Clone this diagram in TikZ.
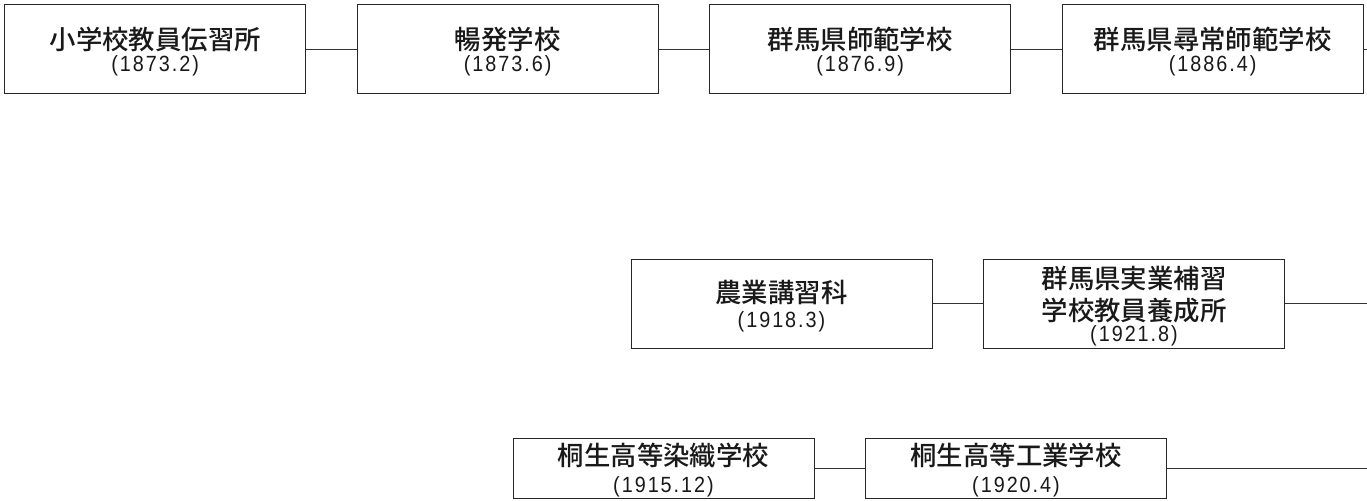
\documentclass[tikz,border=0pt]{standalone}
\usepackage{fontspec}
\setmainfont{Liberation Sans}
\newfontfamily\jpfont{Noto Sans CJK JP Medium}
\newfontfamily\yearfont{Liberation Sans}[FakeStretch=0.9, LetterSpace=9]
\usetikzlibrary{positioning}
\newcommand\meiji[1]{{\jpfont\fontsize{13.2pt}{16pt}\selectfont #1}}
\newcommand\datefont{\yearfont\fontsize{11pt}{10.75pt}\selectfont\lineskiplimit=-20pt\relax}
\tikzset{node distance = 176.25pt, on grid,
         school/.style = {draw = black!85, line width = .5pt, text = black!90,
                          minimum width = 150.5pt, minimum height = 44.75pt,
                          inner sep = 0pt, align = center, font = \datefont,
                          text depth = -1.8pt},
         low/.style = {minimum height = 30pt},
         link/.style = {draw = black!80, line width = .5pt}}

\begin{document}
\begin{tikzpicture}
        \useasboundingbox (0,0) rectangle (683.5pt,250pt);
        \coordinate (rim) at (683.5pt,0);

        % Gunma normal school line
        \node[school]      (n1) at (77.6pt,225.4pt)  {\meiji{小学校教員伝習所}\\(1873.2)};
        \node[school]      (n2) [right of = n1]      {\meiji{暢発学校}\\(1873.6)};
        \node[school]      (n3) [right of = n2]      {\meiji{群馬県師範学校}\\(1876.9)};
        \node[school]      (n4) [right of = n3]      {\meiji{群馬県尋常師範学校}\\(1886.4)};

        % vocational teachers
        \node[school]      (v1) at (390.75pt,98.1pt) {\meiji{農業講習科}\\[1.5pt](1918.3)};
        \node[school]      (v2) [right of = v1]      {\meiji{群馬県実業補習}\\[5.25pt]\meiji{学校教員養成所}\\(1921.8)};

        % Kiryu
        \node[school, low] (k1) at (331.75pt,16pt)   {\meiji{桐生高等染織学校}\\[2.5pt](1915.12)};
        \node[school, low] (k2) [right of = k1]      {\meiji{桐生高等工業学校}\\[2.5pt](1920.4)};

        \coordinate (n5) at (n4 -| rim);
        \coordinate (v3) at (v2 -| rim);
        \coordinate (k3) at (k2 -| rim);

        \path[link] (n1) edge (n2) (n2) edge (n3) (n3) edge (n4) (n4) edge (n5);
        \path[link] (v1) edge (v2) (v2) edge (v3);
        \path[link] (k1) edge (k2) (k2) edge (k3);
\end{tikzpicture}
\end{document}
